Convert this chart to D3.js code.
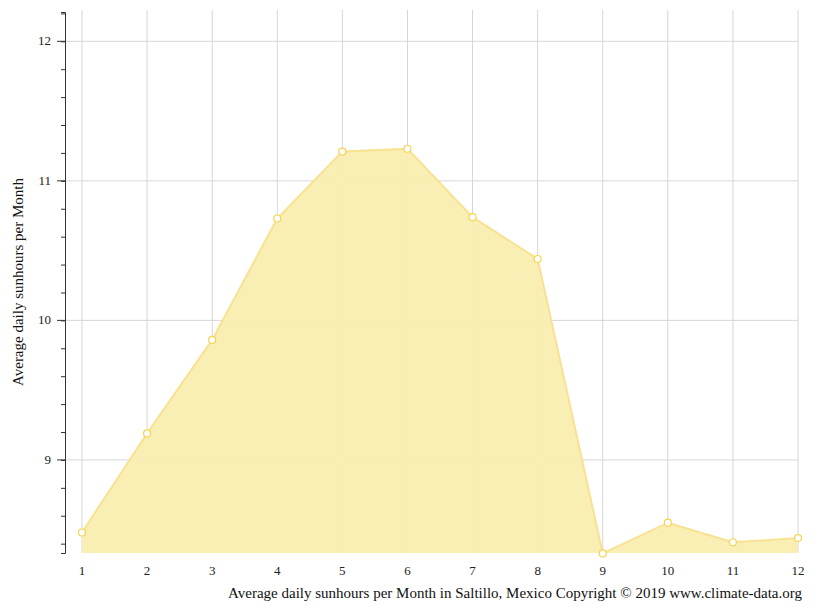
<!DOCTYPE html>
<html><head><meta charset="utf-8">
<script src="https://cdn.jsdelivr.net/npm/d3@7"></script>
<style>body{margin:0;background:#fff}text{font-family:"Liberation Serif",serif}</style>
</head><body><div id="plot_div"></div>
<script>
const width = 815, height = 611
const months = [1,2,3,4,5,6,7,8,9,10,11,12]
const sunhours = [8.48,9.19,9.86,10.73,11.21,11.23,10.74,10.44,8.33,8.55,8.41,8.44]
const yTicks = [9,10,11,12]

const svg = d3.create("svg").attr("width", width).attr("height", height)

const x = d3.scaleLinear().domain([1,12]).range([82,798])
const y = d3.scaleLinear().domain([8.333,12.21]).range([553,12])

// grid
svg.append("g").selectAll("line").data(months).join("line")
    .attr("x1", d => x(d)).attr("x2", d => x(d))
    .attr("y1", 10).attr("y2", 553)
    .attr("stroke", "#d6d6d6")
svg.append("g").selectAll("line").data(yTicks).join("line")
    .attr("x1", 65).attr("x2", 798)
    .attr("y1", d => y(d)).attr("y2", d => y(d))
    .attr("stroke", "#d6d6d6")

// area + line
svg.append("path").datum(months)
    .attr("fill", "#f9eeb0").attr("fill-opacity", 0.95)
    .attr("d", d3.area().x(d => x(d)).y0(553).y1((d,i) => y(sunhours[i])))
svg.append("path").datum(months)
    .attr("fill", "none").attr("stroke", "#f8e291").attr("stroke-width", 2)
    .attr("d", d3.line().x(d => x(d)).y((d,i) => y(sunhours[i])))
svg.append("g").selectAll("circle").data(months).join("circle")
    .attr("cx", d => x(d)).attr("cy", (d,i) => y(sunhours[i])).attr("r", 3.5)
    .attr("fill", "#fff").attr("stroke", "#f5d451").attr("stroke-width", 1.2)

// y axis
const yAxis = svg.append("g").attr("transform", "translate(65,0)")
    .call(d3.axisLeft(y).tickValues(d3.range(8.4, 12.21, 0.2)).tickSize(4).tickFormat(""))
yAxis.select(".domain").attr("stroke", "#333")
yAxis.selectAll(".tick line").attr("stroke", "#333")
svg.append("g").selectAll("line").data(yTicks).join("line")
    .attr("x1", 57).attr("x2", 65).attr("y1", d => y(d)).attr("y2", d => y(d)).attr("stroke", "#333")
svg.append("g").selectAll("text").data(yTicks).join("text")
    .attr("x", 51).attr("y", d => y(d) + 4).attr("text-anchor", "end")
    .attr("font-size", 13).attr("fill", "#222").text(d => d)

// x labels
svg.append("g").selectAll("text").data(months).join("text")
    .attr("x", d => x(d)).attr("y", 575).attr("text-anchor", "middle")
    .attr("font-size", 13).attr("fill", "#222").text(d => d)

svg.append("text").attr("transform", "translate(23,282) rotate(-90)")
    .attr("text-anchor", "middle").attr("font-size", 15).attr("fill", "#111")
    .text("Average daily sunhours per Month")
svg.append("text").attr("x", 802).attr("y", 598).attr("text-anchor", "end")
    .attr("font-size", 15).attr("fill", "#111")
    .text("Average daily sunhours per Month in Saltillo, Mexico Copyright © 2019 www.climate-data.org")

document.getElementById("plot_div").append(svg.node())
</script></body></html>
